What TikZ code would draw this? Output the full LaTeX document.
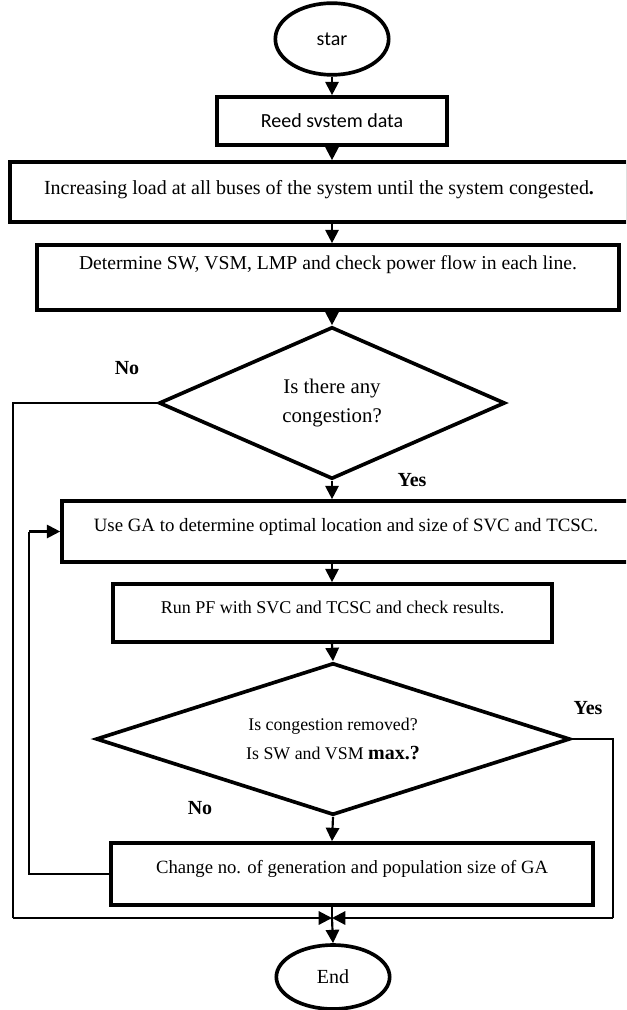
\documentclass[tikz,border=0pt]{standalone}
\usepackage{fontspec}
\setmainfont{Liberation Serif}
\newfontfamily\calibri{Carlito}
\usetikzlibrary{shapes.geometric,arrows.meta}

\begin{document}
\begin{tikzpicture}[x=0.6pt,y=-0.6pt,
    caja/.style={draw,line width=2.2pt,inner sep=0pt},
    rombo/.style={draw,diamond,line width=2.2pt,inner sep=0pt,align=center},
    elipse/.style={draw,ellipse,line width=2.2pt,inner sep=0pt},
    flecha/.style={line width=1.3pt,-{Triangle[length=8pt,width=8pt]}},
    retorno/.style={line width=0.8pt},
    etiqueta/.style={font=\fontsize{12}{14}\selectfont\bfseries}]
    \useasboundingbox (0,0) rectangle (626,1010);
    \clip (0,0) rectangle (626,1010);
    \coordinate (eje) at (332,0);
    \coordinate (izq) at (13,0);
    \coordinate (lazo) at (29,0);
    \coordinate (der) at (613,0);

    %Inicio y datos
    \node[elipse,minimum width=68pt,minimum height=43pt,font=\calibri\fontsize{12}{14}\selectfont] (inicio) at (332,39) {star};
    \node[caja,minimum width=138pt,minimum height=28.8pt,font=\calibri\fontsize{12}{14}\selectfont] (datos) at (332,121) {Reed svstem data};
    \node[caja,minimum width=370.8pt,minimum height=36pt,text depth=6pt,font=\fontsize{12}{14}\selectfont] (carga) at (319,192) {Increasing load at all buses of the system until the system congested\textbf{.}};
    \node[caja,minimum width=349.2pt,minimum height=39pt,text depth=18pt,font=\fontsize{11.8}{14}\selectfont] (flujo) at (328,277.5) {Determine SW, VSM, LMP and check power flow in each line.};

    %Primera decision
    \node[rombo,aspect=2.3,minimum width=207.6pt,minimum height=91.2pt,font=\fontsize{12.5}{17}\selectfont] (congestion) at (332,403) {Is there any\\congestion?};
    \node[etiqueta] (no1) at (127,368) {No};
    \node[etiqueta] (si1) at (412,480) {Yes};

    %GA y flujo de potencia
    \node[caja,minimum width=340.8pt,minimum height=36.6pt,text depth=8pt,font=\fontsize{11.3}{14}\selectfont] (ga) at (346,531.5) {Use GA to determine optimal location and size of SVC and TCSC.};
    \node[caja,minimum width=263.4pt,minimum height=34.8pt,text depth=7pt,font=\fontsize{10.8}{14}\selectfont] (pf) at (332.5,613) {Run PF with SVC and TCSC and check results.};

    %Segunda decision
    \node[rombo,aspect=3.1,minimum width=284.4pt,minimum height=91.2pt,font=\fontsize{10.7}{17}\selectfont] (removida) at (333,739) {Is congestion removed?\\Is SW and VSM {\fontsize{12}{17}\selectfont\bfseries max.?}};
    \node[etiqueta] (si2) at (588,708) {Yes};
    \node[etiqueta] (no2) at (200,808) {No};

    \node[caja,minimum width=289.2pt,minimum height=37.2pt,text depth=8pt,font=\fontsize{11.2}{14}\selectfont] (cambio) at (352,874) {Change no. of generation and population size of GA};

    %Fin
    \coordinate (union) at (332,918);
    \node[elipse,minimum width=68pt,minimum height=38.4pt,font=\fontsize{12}{14}\selectfont] (fin) at (333,977) {End};

    %Flechas
    \draw[flecha] (inicio.south) -- (datos.north);
    \draw[flecha] (datos.south) -- (eje |- carga.north);
    \draw[flecha] (eje |- carga.south) -- (eje |- flujo.north);
    \draw[flecha] (eje |- flujo.south) -- (congestion.north);
    \draw[flecha] (congestion.south) -- (eje |- ga.north);
    \draw[flecha] (eje |- ga.south) -- (eje |- pf.north);
    \draw[flecha] (eje |- pf.south) -- (removida.north);
    \draw[flecha] (removida.south) -- (eje |- cambio.north);
    \draw[line width=1.3pt] (eje |- cambio.south) -- (union);
    \draw[flecha] (union) -- (fin.north);

    %Retornos
    \draw[retorno] (congestion.west) -- (izq |- congestion.west) -- (izq |- union);
    \draw[flecha] (izq |- union) -- (union);
    \draw[retorno] (removida.east) -- (der |- removida.east) -- (der |- union);
    \draw[flecha] (der |- union) -- (union);
    \draw[retorno] (cambio.west) -- (lazo |- cambio.west) -- (lazo |- ga.west);
    \draw[flecha] (lazo |- ga.west) -- (ga.west);
\end{tikzpicture}
\end{document}
